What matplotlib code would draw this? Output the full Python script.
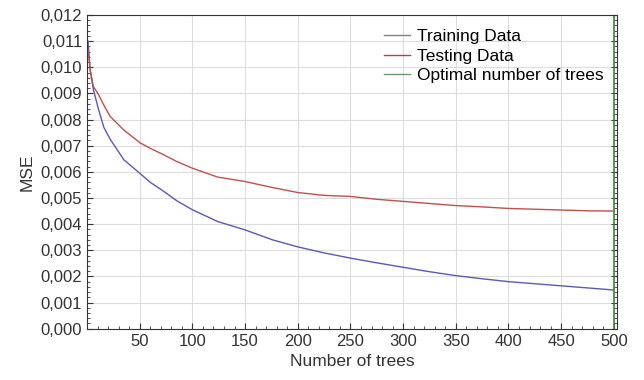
import matplotlib.pyplot as plt
from matplotlib.ticker import FuncFormatter, MultipleLocator

# Number of trees where the curves were read
trees = [1, 3, 6, 11, 16, 22, 35, 50, 60, 73, 85, 100, 124, 150, 176,
         200, 225, 250, 275, 300, 325, 350, 375, 400, 425, 450, 475, 500]

train_mse = [0.01100, 0.00990, 0.00915, 0.00838, 0.00770, 0.00725, 0.00646,
             0.00595, 0.00560, 0.00525, 0.00490, 0.00455, 0.00410, 0.00378,
             0.00340, 0.00313, 0.00290, 0.00270, 0.00252, 0.00235, 0.00218,
             0.00203, 0.00191, 0.00180, 0.00172, 0.00164, 0.00156, 0.00148]

test_mse = [0.01068, 0.00990, 0.00927, 0.00895, 0.00855, 0.00812, 0.00760,
            0.00712, 0.00690, 0.00665, 0.00640, 0.00614, 0.00580, 0.00563,
            0.00540, 0.00521, 0.00510, 0.00506, 0.00495, 0.00487, 0.00479,
            0.00471, 0.00466, 0.00460, 0.00457, 0.00454, 0.00451, 0.00450]

optimal_trees = 500

plt.rcParams['font.family'] = ['Liberation Sans', 'DejaVu Sans']

fig = plt.figure(figsize=(6.44, 3.8), dpi=100)
ax = fig.add_axes([0.1351, 0.135, 0.823, 0.8255])

ax.plot(trees, train_mse, color='#5a5ab4', linewidth=1.0)
ax.plot(trees, test_mse, color='#c0504d', linewidth=1.0)
ax.axvline(optimal_trees, color='#3a8a3a', linewidth=1.2)

# legend proxies (training shown in grey like the original)
ax.plot([], [], color='#808080', linewidth=1.0, label='Training Data')
ax.plot([], [], color='#b04050', linewidth=1.0, label='Testing Data')
ax.plot([], [], color='#6a9a6a', linewidth=1.0, label='Optimal number of trees')
ax.legend(loc='upper right', bbox_to_anchor=(0.994, 0.988), frameon=False,
          fontsize=12.5, handlelength=1.5, handletextpad=0.4,
          labelspacing=0.25, borderaxespad=0.2)

ax.set_xlim(0, 503)
ax.set_ylim(0, 0.012)
ax.set_xticks([50, 100, 150, 200, 250, 300, 350, 400, 450, 500])
ax.yaxis.set_major_locator(MultipleLocator(0.001))
ax.yaxis.set_major_formatter(FuncFormatter(lambda v, p: f'{v:.3f}'.replace('.', ',')))
ax.xaxis.set_minor_locator(MultipleLocator(10))
ax.yaxis.set_minor_locator(MultipleLocator(0.0002))
ax.tick_params(which='both', direction='in', labelsize=12, colors='#333333',
               right=True, top=False)
ax.tick_params(which='major', length=4)
ax.tick_params(which='minor', length=2)

ax.grid(True, color='#dddddd', linewidth=0.8)
for s in ax.spines.values():
    s.set_color('#333333')

ax.set_xlabel('Number of trees', fontsize=12.5, color='#333333')
ax.set_ylabel('MSE', fontsize=12.5, color='#333333')

plt.savefig('out.png', dpi=100)
